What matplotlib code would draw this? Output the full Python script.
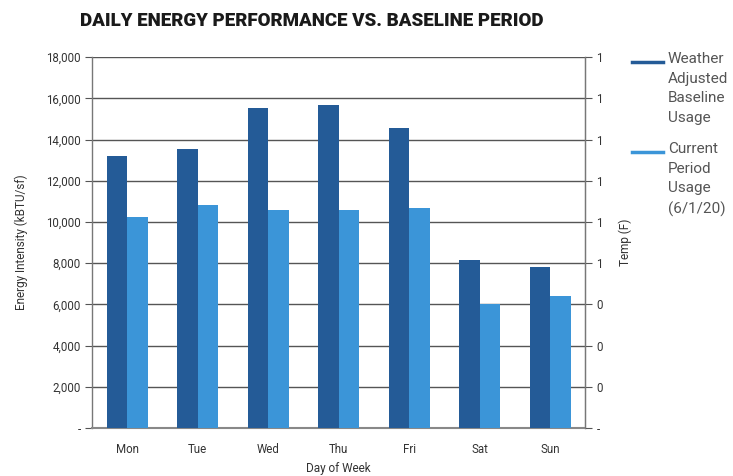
import matplotlib.pyplot as plt
import numpy as np
from matplotlib.lines import Line2D

plt.rcParams['font.family'] = ['Roboto', 'DejaVu Sans']

days = ["Mon", "Tue", "Wed", "Thu", "Fri", "Sat", "Sun"]
baseline = [13200, 13550, 15550, 15700, 14550, 8150, 7830]
current = [10250, 10800, 10600, 10600, 10700, 6000, 6400]

left_ticks = [0, 2000, 4000, 6000, 8000, 10000, 12000, 14000, 16000, 18000]
left_labels = ["-", "2,000", "4,000", "6,000", "8,000", "10,000", "12,000",
               "14,000", "16,000", "18,000"]
temp_labels = ["-", "0", "0", "0", "1", "1", "1", "1", "1", "1"]
series_names = ["Weather\nAdjusted\nBaseline\nUsage", "Current\nPeriod\nUsage\n(6/1/20)"]

dark = "#245b97"
light = "#3b95d8"
grid = "#555555"
txt = "#333333"

fig = plt.figure(figsize=(7.33, 4.76), dpi=100)
ax = fig.add_axes([0.1255, 0.101, 0.673, 0.779])

x = np.arange(len(days))
w = 0.29
ax.bar(x - w / 2, baseline, w, color=dark, zorder=3)
ax.bar(x + w / 2, current, w, color=light, zorder=3)

ax.set_xlim(-0.5, len(days) - 0.5)
ax.set_ylim(0, 18000)
ax.set_yticks(left_ticks)
ax.set_yticklabels(left_labels)
ax.set_xticks(x)
ax.set_xticklabels(days)
ax.grid(axis="y", color=grid, linewidth=1.0, zorder=0)
ax.tick_params(axis="y", length=5, color=grid, labelsize=8.3, labelcolor=txt, pad=3)
ax.tick_params(axis="x", length=0, labelsize=8.3, labelcolor=txt, pad=11)
for s in ["left", "right", "bottom"]:
    ax.spines[s].set_color("#777777")
    ax.spines[s].set_linewidth(1.0)
ax.spines["top"].set_visible(False)
ax.spines["bottom"].set_color("#888888")
ax.spines["bottom"].set_linewidth(1.5)

ax.set_ylabel("Energy Intensity (kBTU/sf)", fontsize=8.5, color=txt, labelpad=13)
ax.set_xlabel("Day of Week", fontsize=8.5, color=txt, labelpad=4)

ax2 = ax.twinx()
ax2.set_ylim(0, 18000)
ax2.set_yticks(left_ticks)
ax2.set_yticklabels(temp_labels)
ax2.tick_params(axis="y", length=5, color=grid, labelsize=8.3, labelcolor=txt, pad=3)
for s in ["left", "top", "bottom"]:
    ax2.spines[s].set_visible(False)
ax2.spines["right"].set_color("#777777")
ax2.set_ylabel("Temp (F)", fontsize=8.5, color=txt, labelpad=11)

fig.text(0.425, 0.955, "DAILY ENERGY PERFORMANCE VS. BASELINE PERIOD",
         ha="center", va="center", fontsize=13.5, fontweight="heavy", color="#1a1a1a")

# legend entries: short line swatch plus wrapped label
for i, (name, col) in enumerate(zip(series_names, [dark, light])):
    y0 = 0.870 - i * 0.189
    fig.add_artist(Line2D([0.862, 0.905], [y0, y0], color=col, linewidth=2.5,
                          transform=fig.transFigure))
    fig.text(0.911, y0 + 0.020, name, ha="left", va="top", fontsize=11,
             color="#555555", linespacing=1.5)

fig.savefig("out.png", dpi=100)
